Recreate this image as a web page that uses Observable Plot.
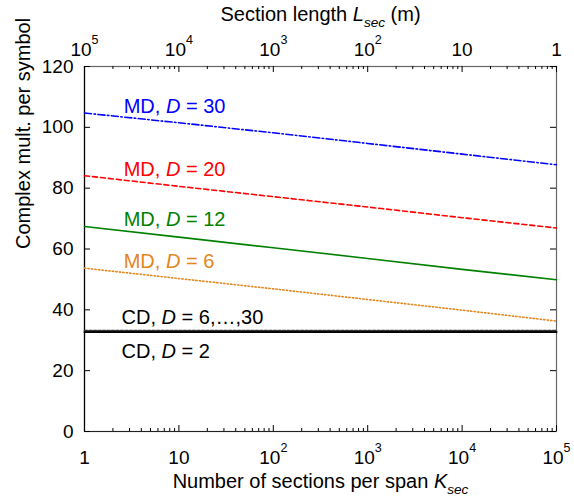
<!DOCTYPE html>
<html>
<head>
<meta charset="utf-8">
<script src="https://cdn.jsdelivr.net/npm/d3@7"></script>
<script src="https://cdn.jsdelivr.net/npm/@observablehq/plot@0.6"></script>
<style>
  html, body { margin: 0; padding: 0; background: #fff; }
  svg { display: block; }
</style>
</head>
<body>
<div id="chart"></div>
<script>
// ---- Data ----
const sectionsPerSpan = [1, 10, 100, 1000, 10000, 100000];
const md30 = [104.7, 101.5, 98.2, 94.7, 91.2, 87.7];
const md20 = [84.1, 80.6, 77.2, 73.8, 70.3, 66.9];
const md12 = [67.4, 63.9, 60.4, 56.9, 53.3, 49.9];
const md6  = [53.7, 50.3, 46.9, 43.4, 39.9, 36.3];
const cdHigh = [33.2, 33.2, 33.2, 33.2, 33.2, 33.2];   // CD, D = 6..30
const cdLow  = [32.7, 32.7, 32.7, 32.7, 32.7, 32.7];   // CD, D = 2

const xTickValues = [1, 10, 100, 1000, 10000, 100000];
const xTickLabels = ["1", "10", "10^{2}", "10^{3}", "10^{4}", "10^{5}"];
const topTickLabels = ["10^{5}", "10^{4}", "10^{3}", "10^{2}", "10", "1"];
const yTickValues = [0, 20, 40, 60, 80, 100, 120];

const annoText = ["MD, *D* = 30", "MD, *D* = 20", "MD, *D* = 12", "MD, *D* = 6", "CD, *D* = 6,…,30", "CD, *D* = 2"];
const annoK = [2.6, 2.6, 2.6, 2.6, 2.47, 2.47];
const annoV = [106.9, 86.1, 69.8, 56.0, 37.5, 26.4];
const annoColor = ["#0000ff", "#ff0000", "#008000", "#e3861c", "#000000", "#000000"];

const xTitle = "Number of sections per span *K*_{sec}";
const topTitle = "Section length *L*_{sec} (m)";
const yTitle = "Complex mult. per symbol";

// ---- Layout ----
const W = 574, H = 502;
const mL = 84, mR = 18, mT = 66, mB = 71;
const innerW = W - mL - mR, innerH = H - mT - mB;

const toRows = (vals) => sectionsPerSpan.map((k, i) => ({k, v: vals[i]}));
const minorTicks = d3.scaleLog().domain([1, 1e5]).ticks().filter(t => !xTickValues.includes(t));

const chart = Plot.plot({
  width: W, height: H,
  marginLeft: mL, marginRight: mR, marginTop: mT, marginBottom: mB,
  style: {fontFamily: "'Liberation Sans', Arial, sans-serif", fontSize: "19px", background: "#fff", color: "#000"},
  x: {type: "log", domain: [1, 1e5], axis: null},
  y: {domain: [0, 120], axis: null},
  marks: [
    Plot.frame({stroke: "#666", strokeWidth: 1.2}),
    Plot.ruleX([1], {stroke: "#000", strokeWidth: 1.2}),
    Plot.ruleY([0], {stroke: "#222", strokeWidth: 1.2}),
    // inward ticks
    Plot.tickY(yTickValues, {y: d => d, insetRight: innerW - 6, stroke: "#000"}),
    Plot.tickY(yTickValues, {y: d => d, insetLeft: innerW - 6, stroke: "#000"}),
    Plot.tickX(xTickValues, {x: d => d, insetTop: innerH - 6, stroke: "#000"}),
    Plot.tickX(minorTicks, {x: d => d, insetTop: innerH - 3, stroke: "#000"}),
    Plot.tickX(xTickValues, {x: d => d, insetBottom: innerH - 6, stroke: "#000"}),
    Plot.tickX(minorTicks, {x: d => d, insetBottom: innerH - 3, stroke: "#000"}),
    // axis labels
    Plot.text(yTickValues, {y: d => d, text: d => String(d), frameAnchor: "left", dx: -11, textAnchor: "end", lineAnchor: "middle", fontSize: 19}),
    Plot.text(xTickValues, {x: d => d, text: (d, i) => xTickLabels[i], frameAnchor: "bottom", dy: 26, lineAnchor: "middle", fontSize: 19}),
    Plot.text(xTickValues, {x: d => d, text: (d, i) => topTickLabels[i], frameAnchor: "top", dy: -17, lineAnchor: "middle", fontSize: 19}),
    // titles
    Plot.text([xTitle], {frameAnchor: "bottom", dy: 50, lineAnchor: "middle", fontSize: 20}),
    Plot.text([topTitle], {frameAnchor: "top", dy: -52, lineAnchor: "middle", fontSize: 20}),
    Plot.text([yTitle], {frameAnchor: "left", dx: -61, rotate: -90, lineAnchor: "middle", fontSize: 20}),
    // series
    Plot.line(toRows(cdLow), {x: "k", y: "v", stroke: "#000", strokeWidth: 2}),
    Plot.line(toRows(cdHigh), {x: "k", y: "v", stroke: "#333", strokeWidth: 1.6, strokeDasharray: "3,1.5"}),
    Plot.line(toRows(md6), {x: "k", y: "v", stroke: "#e3861c", strokeWidth: 1.6, strokeDasharray: "1.3,2.2"}),
    Plot.line(toRows(md12), {x: "k", y: "v", stroke: "#008000", strokeWidth: 1.6}),
    Plot.line(toRows(md20), {x: "k", y: "v", stroke: "#ff0000", strokeWidth: 1.6, strokeDasharray: "5,3"}),
    Plot.line(toRows(md30), {x: "k", y: "v", stroke: "#0000ff", strokeWidth: 1.6, strokeDasharray: "7,2.5,1.5,2.5"}),
    // annotations
    Plot.text(annoText, {x: (d, i) => annoK[i], y: (d, i) => annoV[i], text: d => d, fill: (d, i) => annoColor[i], textAnchor: "start", lineAnchor: "middle", fontSize: 20})
  ]
});

document.getElementById("chart").appendChild(chart);

// ---- rich text: *italic*, _{sub}, ^{sup} ----
function richify(root) {
  root.querySelectorAll("text").forEach(el => {
    const s = el.textContent;
    if (!/[*_^]/.test(s)) return;
    const fs = parseFloat(getComputedStyle(el).fontSize) || 19;
    const re = /\*([^*]+)\*|_\{([^}]+)\}|\^\{([^}]+)\}|([^*_^]+)/g;
    el.textContent = "";
    let shift = 0, m;
    while ((m = re.exec(s))) {
      const ts = document.createElementNS("http://www.w3.org/2000/svg", "tspan");
      let target = 0;
      if (m[1]) { ts.textContent = m[1]; ts.setAttribute("font-style", "italic"); }
      else if (m[2]) { ts.textContent = m[2]; ts.setAttribute("font-size", fs * 0.68); ts.setAttribute("font-style", "italic"); target = fs * 0.3; }
      else if (m[3]) { ts.textContent = m[3]; ts.setAttribute("font-size", fs * 0.66); target = -fs * 0.6; }
      else { ts.textContent = m[4]; }
      if (target !== shift) ts.setAttribute("dy", target - shift);
      shift = target;
      el.appendChild(ts);
    }
  });
}
richify(chart);
</script>
</body>
</html>
